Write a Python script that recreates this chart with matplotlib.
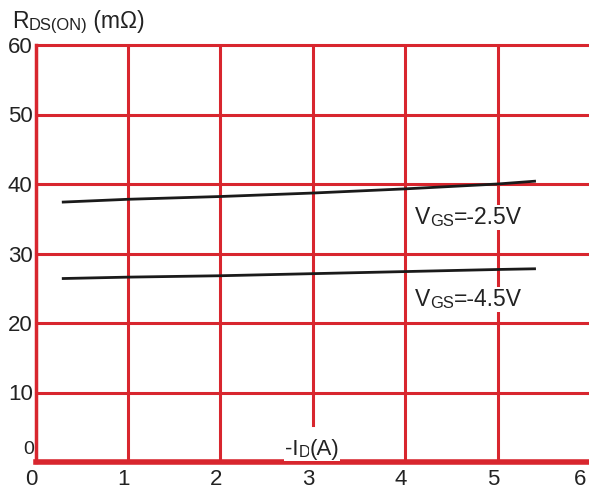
import matplotlib
matplotlib.use("Agg")
import matplotlib.pyplot as plt
import matplotlib.transforms as mtransforms

plt.rcParams['font.family'] = ['Liberation Sans', 'DejaVu Sans']

# Drain current -I_D (A) and on-resistance R_DS(ON) (mOhm)
id_vgs25 = [0.3, 1.0, 2.0, 3.0, 4.0, 5.0, 5.4]
rds_vgs25 = [37.4, 37.8, 38.2, 38.7, 39.3, 40.0, 40.4]
id_vgs45 = [0.3, 1.0, 2.0, 3.0, 4.0, 5.0, 5.4]
rds_vgs45 = [26.4, 26.6, 26.8, 27.1, 27.4, 27.7, 27.8]

x_ticks = [0, 1, 2, 3, 4, 5, 6]
y_ticks = [10, 20, 30, 40, 50, 60]

RED = '#d8262e'
TXT = '#222222'
W, H = 589, 493
fig = plt.figure(figsize=(W / 100, H / 100), dpi=100)
ax = fig.add_axes([35.5 / W, 1 - 462 / H, (590 - 35.5) / W, (462 - 45) / H])
ax.set_xlim(0, 6)
ax.set_ylim(0, 60)

# grid
for y in y_ticks:
    ax.axhline(y, color=RED, lw=2.2, zorder=1, clip_on=False)
for x in x_ticks[1:-1]:
    lo = 5.3 / 60 if x == 3 else 0
    ax.axvline(x, ymin=lo, color=RED, lw=2.2, zorder=1)

for s in ['top', 'right']:
    ax.spines[s].set_visible(False)
ax.spines['left'].set_color(RED)
ax.spines['left'].set_linewidth(2.5)
ax.spines['bottom'].set_color(RED)
ax.spines['bottom'].set_linewidth(4)

ax.plot(id_vgs25, rds_vgs25, color='#1a1a1a', lw=2, zorder=3)
ax.plot(id_vgs45, rds_vgs45, color='#1a1a1a', lw=2, zorder=3)

ax.set_xticks(x_ticks)
ax.set_xticklabels([str(v) for v in x_ticks], fontsize=16, color=TXT)
ax.set_yticks(y_ticks)
ax.set_yticklabels([str(v) for v in y_ticks], fontsize=16, color=TXT)
ax.tick_params(length=0)
ax.tick_params(axis='y', pad=2)
ax.tick_params(axis='x', pad=5)
shift = mtransforms.ScaledTranslation(-4 / 100, 0, fig.dpi_scale_trans)
xlabs = ax.get_xticklabels()
for lab in xlabs:
    lab.set_transform(lab.get_transform() + shift)
# keep the last label inside the figure
xlabs[-1].set_horizontalalignment('right')

# lone zero on the y axis
fig.text(29 / W, 1 - 449 / H, '0', fontsize=14, color=TXT,
         family=['Liberation Sans Narrow', 'Liberation Sans'],
         ha='center', va='center')


def sub_label(x, y, main, sub, tail, size, transform, bg=False):
    """Draw main text followed by a smaller subscript part and a tail."""
    kw = dict(color=TXT, zorder=5)
    t1 = ax.text(x, y, main, fontsize=size, transform=transform,
                 ha='left', va='baseline', **kw)
    t2 = ax.annotate(sub, xy=(1, 0), xycoords=t1, fontsize=size * 0.72,
                     ha='left', va='bottom', annotation_clip=False, **kw)
    t3 = ax.annotate(tail, xy=(1, 0), xycoords=t2, fontsize=size,
                     ha='left', va='bottom', annotation_clip=False, **kw)
    if bg:
        for t in (t1, t2, t3):
            t.set_bbox(dict(facecolor='white', edgecolor='none', pad=0.5))
    return t1


pix = mtransforms.Affine2D().scale(1 / W, 1 / H) + fig.transFigure
flip = lambda px, py: (px, H - py)

sub_label(*flip(12, 28), 'R', 'DS(ON)', ' (mΩ)', 16.5, pix)
sub_label(*flip(285, 455), '-I', 'D', '(A)', 16, pix, bg=True)
sub_label(*flip(415, 224), 'V', 'GS', '=-2.5V', 16.5, pix, bg=True)
sub_label(*flip(415, 306), 'V', 'GS', '=-4.5V', 16.5, pix, bg=True)

fig.savefig('out.png', dpi=100, facecolor='white')
